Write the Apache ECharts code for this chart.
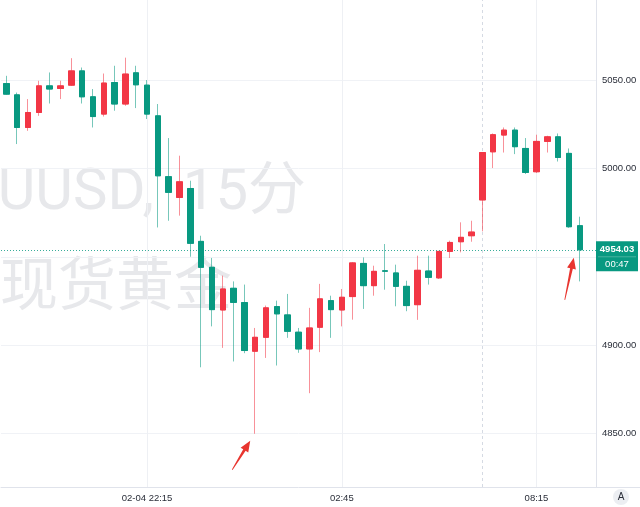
<!DOCTYPE html>
<html><head><meta charset="utf-8">
<script src="https://cdn.jsdelivr.net/npm/echarts@6/dist/echarts.min.js"></script>
<style>html,body{margin:0;padding:0;background:#fff}#c{width:640px;height:507px}</style>
</head><body><div id="c"></div>
<script>
const categories = [
 '02-04 19:00','02-04 19:15','02-04 19:30','02-04 19:45','02-04 20:00','02-04 20:15','02-04 20:30','02-04 20:45',
 '02-04 21:00','02-04 21:15','02-04 21:30','02-04 21:45','02-04 22:00','02-04 22:15','02-04 22:30','02-04 22:45',
 '02-04 23:00','02-04 23:15','02-04 23:30','02-04 23:45','02-05 00:00','02-05 00:15','02-05 00:30','02-05 00:45',
 '02-05 01:00','02-05 01:15','02-05 01:30','02-05 01:45','02-05 02:00','02-05 02:15','02-05 02:30','02-05 02:45',
 '02-05 03:00','02-05 03:15','02-05 03:30','02-05 03:45','02-05 04:00','02-05 04:15','02-05 04:30','02-05 04:45',
 '02-05 05:00','02-05 05:15','02-05 05:30','02-05 05:45','02-05 07:00','02-05 07:15','02-05 07:30','02-05 07:45',
 '02-05 08:00','02-05 08:15','02-05 08:30','02-05 08:45','02-05 09:00','02-05 09:15','02-05 09:30'
];
const openVals = [5048.3,5041.9,5023.4,5031.9,5047.0,5045.5,5047.4,5055.5,5040.8,5031.0,5048.9,5036.7,5054.4,5047.4,5030.0,4995.5,
 4983.7,4988.8,4958.8,4944.1,4919.9,4932.2,4924.1,4896.5,4904.4,4921.8,4917.1,4907.3,4897.8,4910.1,4925.2,4919.9,
 4927.5,4946.3,4933.7,4942.1,4940.9,4933.3,4922.9,4942.0,4938.1,4953.1,4958.6,4962.0,4982.3,5009.6,5019.1,5021.9,
 5011.5,4998.3,5015.5,5018.1,5008.7,4967.7];
const closeVals = [5042.3,5023.4,5031.9,5047.0,5045.2,5047.0,5055.5,5040.8,5029.6,5048.6,5036.7,5053.7,5047.6,5031.0,4996.0,4986.6,
 4992.6,4957.7,4944.1,4920.1,4931.8,4924.2,4896.9,4904.4,4921.1,4917.7,4907.8,4897.8,4909.7,4926.2,4920.1,4927.1,
 4946.6,4933.7,4941.8,4941.9,4933.3,4922.4,4942.4,4938.4,4953.1,4958.2,4961.1,4964.1,5009.2,5019.3,5021.9,5012.5,
 4997.9,5015.5,5018.1,5006.4,4967.1,4954.03];
const lowVals = [5042.0,5014.0,5021.5,5030.0,5037.0,5039.5,5047.0,5037.0,5023.4,5029.6,5032.9,5035.7,5034.4,5028.2,4966.7,4970.5,
 4973.4,4950.1,4887.4,4910.6,4898.4,4890.7,4895.4,4849.7,4892.7,4888.4,4904.1,4895.6,4872.7,4896.0,4904.1,4910.6,
 4914.4,4920.5,4928.0,4931.4,4922.0,4919.2,4914.3,4934.3,4937.5,4949.4,4952.6,4958.6,4964.5,5000.4,5009.2,5008.3,
 4997.0,4997.6,5009.2,5004.1,4966.5,4936.1];
const highVals = [5052.7,5043.2,5039.5,5049.9,5054.6,5049.9,5062.7,5057.4,5045.2,5054.0,5058.4,5063.0,5058.4,5050.3,5036.7,5017.4,
 5007.4,4993.2,4962.0,4949.4,4939.4,4936.1,4934.3,4909.7,4922.4,4925.2,4929.0,4909.7,4921.1,4934.7,4928.0,4931.8,
 4947.0,4949.7,4945.0,4957.3,4945.6,4936.5,4950.7,4950.7,4953.4,4959.2,4969.6,4970.5,5009.5,5020.0,5023.4,5023.4,
 5017.4,5019.3,5018.7,5020.0,5011.5,4972.8];
const tickCats = ['02-04 22:15','02-05 02:45','02-05 08:15'];
const tickTexts = ['02-04 22:15','02:45','08:15'];
const sessionBreak = '02-05 07:00';
const lastPrice = 4954.03;
const countdown = '00:47';
const watermarkSymbol = 'XAUUSD,';
const watermarkPeriod = '15分';
const watermark2 = '现货黄金';
const arrowTargets = [['02-05 00:45', 4849.7], ['02-05 09:15', 4954.03]];

const UP = '#f23645', DOWN = '#089981';
const FONT = 'Liberation Sans, Arial, sans-serif';
const WMFONT = "Roboto, 'Noto Sans CJK SC', sans-serif";
const fullData = openVals.map((o, i) => [o, closeVals[i], lowVals[i], highVals[i]]);
const bodyData = openVals.map((o, i) => [o, closeVals[i], Math.min(o, closeVals[i]), Math.max(o, closeVals[i])]);

const chart = echarts.init(document.getElementById('c'), null, {renderer: 'canvas'});
const vLines = tickCats.map(c => ({xAxis: c, lineStyle: {color: '#eef0f4', width: 1, type: 'solid'}, label: {show: false}}));
vLines.push({xAxis: sessionBreak, lineStyle: {color: '#d5dae3', width: 1, type: [3, 3]}, label: {show: false}});
vLines.push({yAxis: lastPrice, lineStyle: {color: '#089981', width: 1, type: [1, 2], opacity: 0.8}, label: {show: false}});

chart.setOption({
  animation: false,
  backgroundColor: '#fff',
  grid: {left: 1, right: 44, top: 0, bottom: 20, outerBoundsMode: 'none'},
  xAxis: {
    type: 'category', data: categories, boundaryGap: true,
    axisLine: {show: true, lineStyle: {color: '#e0e3eb'}},
    axisTick: {show: false},
    splitLine: {show: false},
    axisLabel: {
      interval: (idx, val) => tickCats.indexOf(val) >= 0,
      formatter: v => { const k = tickCats.indexOf(v); return k >= 0 ? tickTexts[k] : ''; },
      color: '#2a2e39', fontSize: 9.5, fontFamily: FONT, margin: 6
    }
  },
  yAxis: {
    type: 'value', position: 'right', min: 4819.5, max: 5095.7, scale: true,
    minInterval: 50, maxInterval: 50,
    axisLine: {show: true, lineStyle: {color: '#e0e3eb'}},
    axisTick: {show: false},
    splitLine: {show: true, showMinLine: false, showMaxLine: false, lineStyle: {color: '#f0f2f6'}},
    axisLabel: {
      showMinLabel: false, showMaxLabel: false,
      formatter: v => Math.abs(v - lastPrice) < 14 ? '' : v.toFixed(2),
      color: '#2a2e39', fontSize: 9.5, fontFamily: FONT, margin: 6
    }
  },
  series: [
    {
      name: 'grid', type: 'line', data: [], z: 1, silent: true,
      markLine: {z: 1, silent: true, symbol: ['none', 'none'], animation: false, data: vLines}
    },
    {
      name: 'wick', type: 'candlestick', data: fullData, barWidth: 6, z: 8,
      itemStyle: {color: 'rgba(242,54,69,0.55)', color0: 'rgba(8,153,129,0.55)', borderColor: 'rgba(242,54,69,0.55)', borderColor0: 'rgba(8,153,129,0.55)', borderWidth: 1}
    },
    {
      name: 'body', type: 'candlestick', data: bodyData, barWidth: 6, z: 10,
      itemStyle: {color: UP, color0: DOWN, borderColor: UP, borderColor0: DOWN, borderWidth: 1}
    }
  ],
  graphic: [
    {id: 'wm1a', type: 'text', z: -10, silent: true, style: {text: watermarkSymbol, x: 154, y: 194, align: 'right', verticalAlign: 'middle', fontSize: 58, fontFamily: WMFONT, fill: '#e7e8eb'}},
    {id: 'wm1b', type: 'text', z: -10, silent: true, style: {text: watermarkPeriod, x: 306, y: 194, align: 'right', verticalAlign: 'middle', fontSize: 58, fontFamily: WMFONT, fill: '#e7e8eb'}},
    {id: 'wm2', type: 'text', z: -10, silent: true, style: {text: watermark2, x: 0, y: 283, align: 'left', verticalAlign: 'middle', fontSize: 58, fontFamily: "'Noto Sans CJK SC', sans-serif", fill: '#e7e8eb'}},
    {id: 'base', type: 'line', silent: true, shape: {x1: 596, y1: 487.5, x2: 640, y2: 487.5}, style: {stroke: '#e0e3eb', lineWidth: 1}},
    {id: 'abtn', type: 'circle', silent: true, shape: {cx: 621, cy: 497, r: 8}, style: {fill: '#eceef2'}},
    {id: 'atxt', type: 'text', silent: true, style: {text: 'A', x: 621, y: 497, align: 'center', verticalAlign: 'middle', fontSize: 10, fill: '#2a2e39', fontFamily: FONT}}
  ]
});

function arrowPoly(tip, tail) {
  const dx = tip[0] - tail[0], dy = tip[1] - tail[1];
  const L = Math.hypot(dx, dy), ux = dx / L, uy = dy / L, nx = -uy, ny = ux;
  const hl = 11, hw = 4.5;
  const bx = tip[0] - ux * hl, by = tip[1] - uy * hl;
  return [
    [tail[0] + nx * 0.4, tail[1] + ny * 0.4], [bx + nx * 1.4, by + ny * 1.4], [bx + nx * hw, by + ny * hw],
    tip, [bx - nx * hw, by - ny * hw], [bx - nx * 1.4, by - ny * 1.4], [tail[0] - nx * 0.4, tail[1] - ny * 0.4]
  ];
}
const offsets = [[[-5, 7], [-23, 36]], [[-6, 8], [-15, 50]]];
const extra = arrowTargets.map((t, k) => {
  const p = chart.convertToPixel({gridIndex: 0}, [categories.indexOf(t[0]), t[1]]);
  const tip = [p[0] + offsets[k][0][0], p[1] + offsets[k][0][1]];
  const tail = [p[0] + offsets[k][1][0], p[1] + offsets[k][1][1]];
  return {id: 'arrow' + k, type: 'polygon', z: 100, silent: true, shape: {points: arrowPoly(tip, tail)}, style: {fill: '#e8352f'}};
});
const py = chart.convertToPixel({yAxisIndex: 0}, lastPrice);
const gx = 596;
extra.push({id: 'pbox', type: 'rect', z: 50, silent: true, shape: {x: gx, y: py - 8.5, width: 42, height: 30}, style: {fill: '#089981'}});
extra.push({id: 'psep', type: 'line', z: 51, silent: true, shape: {x1: gx + 2, y1: py + 7, x2: gx + 40, y2: py + 7}, style: {stroke: 'rgba(255,255,255,0.25)', lineWidth: 1}});
extra.push({id: 'ptxt', type: 'text', z: 52, silent: true, style: {text: lastPrice.toFixed(2), x: gx + 21, y: py, align: 'center', verticalAlign: 'middle', fontSize: 9.5, fontWeight: 'bold', fill: '#fff', fontFamily: FONT}});
extra.push({id: 'ctxt', type: 'text', z: 52, silent: true, style: {text: countdown, x: gx + 21, y: py + 14.5, align: 'center', verticalAlign: 'middle', fontSize: 9.5, fill: '#fff', fontFamily: FONT}});
chart.setOption({graphic: extra});
</script></body></html>
